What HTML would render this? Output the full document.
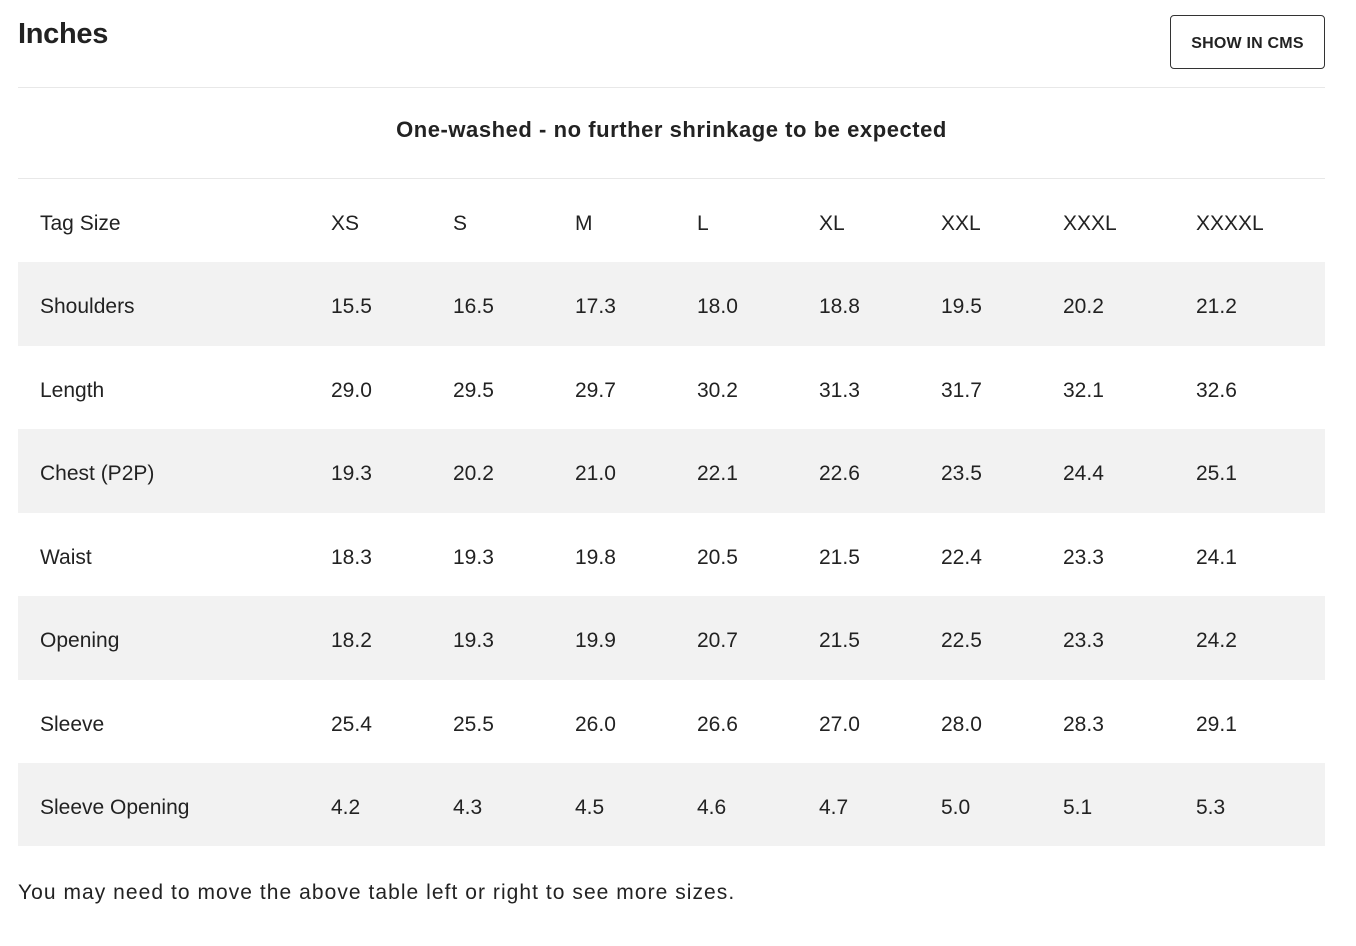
<!DOCTYPE html>
<html><head><meta charset="utf-8"><style>
body{margin:0;width:1356px;height:946px;background:#fff;font-family:"Liberation Sans",sans-serif;color:#222;position:relative;overflow:hidden}
.a{position:absolute;white-space:nowrap}
h1{position:absolute;left:18px;top:18px;margin:0;font-size:29px;font-weight:bold;letter-spacing:-0.3px}
.btn{position:absolute;left:1170px;top:15px;width:153px;height:52px;border:1px solid #333;border-radius:4px;font-size:16px;font-weight:bold;line-height:56px;text-align:center;letter-spacing:0.2px}
.hr{position:absolute;left:18px;width:1307px;height:1px;background:#e8e8e8}
.row{position:absolute;left:18px;width:1307px;height:84px;font-size:21px}
.g{background:#f2f2f2}
.row span{position:absolute;top:50%;transform:translateY(-50%);margin-top:3px}
</style></head><body>
<h1>Inches</h1>
<div class="btn">SHOW IN CMS</div>
<div class="hr" style="top:87px"></div>
<div class="a" style="left:0;width:1343px;text-align:center;top:117px;font-size:22px;font-weight:bold;letter-spacing:0.55px">One-washed - no further shrinkage to be expected</div>
<div class="hr" style="top:178px"></div>
<div id="t"></div>
<div class="a" style="left:18px;top:881px;font-size:21px;letter-spacing:1.05px">You may need to move the above table left or right to see more sizes.</div>
<script>
var rows=[["Tag Size","XS","S","M","L","XL","XXL","XXXL","XXXXL"],
["Shoulders","15.5","16.5","17.3","18.0","18.8","19.5","20.2","21.2"],
["Length","29.0","29.5","29.7","30.2","31.3","31.7","32.1","32.6"],
["Chest (P2P)","19.3","20.2","21.0","22.1","22.6","23.5","24.4","25.1"],
["Waist","18.3","19.3","19.8","20.5","21.5","22.4","23.3","24.1"],
["Opening","18.2","19.3","19.9","20.7","21.5","22.5","23.3","24.2"],
["Sleeve","25.4","25.5","26.0","26.6","27.0","28.0","28.3","29.1"],
["Sleeve Opening","4.2","4.3","4.5","4.6","4.7","5.0","5.1","5.3"]];
var xs=[22,313,435,557,679,801,923,1045,1178];
var tops=[179,262,346,429,513,596,680,763];
var h="";
rows.forEach(function(r,i){
 var ht=(i==0?83:(i<7?tops[i+1]-tops[i]:83));
 h+='<div class="row'+(i%2==1?' g':'')+'" style="top:'+tops[i]+'px;height:'+ht+'px">';
 r.forEach(function(c,j){h+='<span style="left:'+xs[j]+'px">'+c+'</span>';});
 h+='</div>';
});
document.getElementById('t').innerHTML=h;
</script>
</body></html>
